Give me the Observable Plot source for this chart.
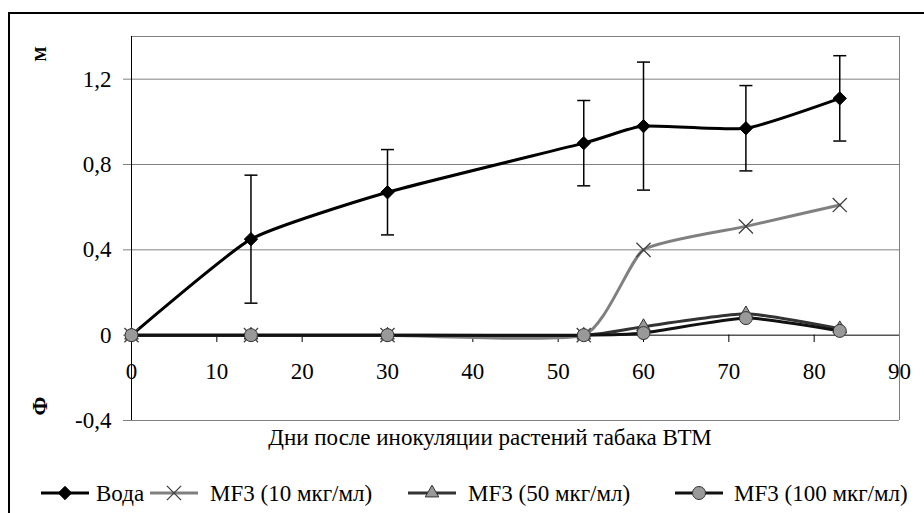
<!DOCTYPE html>
<html>
<head>
<meta charset="utf-8">
<script src="https://cdn.jsdelivr.net/npm/d3@7"></script>
<script src="https://cdn.jsdelivr.net/npm/@observablehq/plot@0.6"></script>
<style>
  html, body { margin: 0; padding: 0; background: #fff; }
  #wrap { position: relative; width: 924px; height: 513px; overflow: hidden; font-family: "Liberation Serif", "Times New Roman", serif; color: #000; }
  #wrap svg.plot { position: absolute; left: 0; top: 0; }
  .abs { position: absolute; white-space: nowrap; }
</style>
</head>
<body>
<div id="wrap"></div>
<script>
// ---- data ----
const days     = [0, 14, 30, 53, 60, 72, 83];
const water    = [0, 0.45, 0.67, 0.90, 0.98, 0.97, 1.11];
const waterErr = [0, 0.30, 0.20, 0.20, 0.30, 0.20, 0.20];
const mf3_10   = [0, 0, 0, 0, 0.40, 0.51, 0.61];
const mf3_50   = [0, 0, 0, 0, 0.04, 0.10, 0.03];
const mf3_100  = [0, 0, 0, 0, 0.01, 0.08, 0.02];
const xTicks   = [0, 10, 20, 30, 40, 50, 60, 70, 80, 90];
const yTicks   = [-0.4, 0, 0.4, 0.8, 1.2];
const gridVals = [-0.4, 0.4, 0.8, 1.2, 1.4];
const seriesNames = ["Вода", "MF3 (10 мкг/мл)", "MF3 (50 мкг/мл)", "MF3 (100 мкг/мл)"];
const xLabel = "Дни после инокуляции растений табака ВТМ";

const rows = days.map((d, i) => ({day: d, water: water[i], err: waterErr[i], s10: mf3_10[i], s50: mf3_50[i], s100: mf3_100[i]}));
const errRows = rows.filter(r => r.err > 0);
const fmt = d => String(d).replace(".", ",");
const FS = 23;

const cap = {draw(ctx, size) { const w = Math.sqrt(size / Math.PI); ctx.moveTo(-w, 0); ctx.lineTo(w, 0); }};

const styles = [
  {line: "#000000", symbol: "diamond2", fill: "#000", stroke: "#000", r: 6, sw: 1},
  {line: "#808080", symbol: "times", fill: "none", stroke: "#404040", r: 6.5, sw: 1.3},
  {line: "#333333", symbol: "triangle2", fill: "#999", stroke: "#333", r: 6.5, sw: 1},
  {line: "#111111", symbol: "circle", fill: "#999", stroke: "#333", r: 6.5, sw: 1}
];
const keys = ["water", "s10", "s50", "s100"];

const marks = [
  Plot.ruleY(gridVals, {stroke: "#808080", strokeWidth: 1}),
  Plot.ruleX([90], {stroke: "#808080", strokeWidth: 1}),
  Plot.ruleX([0], {stroke: "#000", strokeWidth: 1}),
  Plot.ruleY([0], {stroke: "#000", strokeWidth: 1}),
  Plot.ruleX(xTicks.filter(d => d > 0 && d < 90), {x: d => d, y1: 0, y2: -0.4, insetBottom: 78, stroke: "#000"}),
  Plot.ruleX([90], {y1: 0, y2: -0.4, insetBottom: 78, stroke: "#808080"}),
  Plot.text(xTicks, {x: d => d, y: 0, dy: 36, text: d => String(d), fontSize: FS, fill: "#000"}),
  Plot.axisY({ticks: yTicks, tickSize: 8, tickPadding: 12, tickFormat: fmt, fontSize: FS, stroke: "#808080", fill: "#000"})
];

keys.forEach((k, i) => {
  const s = styles[i];
  marks.push(Plot.line(rows, {x: "day", y: k, curve: "cardinal", tension: 0.5, stroke: s.line, strokeWidth: 3}));
  if (i === 0) {
    marks.push(Plot.ruleX(errRows, {x: "day", y1: r => r.water - r.err, y2: r => r.water + r.err, stroke: "#000", strokeWidth: 1.5}));
    marks.push(Plot.dot(errRows, {x: "day", y: r => r.water + r.err, symbol: cap, r: 6.5, stroke: "#000", strokeWidth: 1.5}));
    marks.push(Plot.dot(errRows, {x: "day", y: r => r.water - r.err, symbol: cap, r: 6.5, stroke: "#000", strokeWidth: 1.5}));
  }
  marks.push(Plot.dot(rows, {x: "day", y: k, symbol: s.symbol, r: s.r, fill: s.fill, stroke: s.stroke, strokeWidth: s.sw}));
});

const chart = Plot.plot({
  width: 924,
  height: 513,
  marginLeft: 131,
  marginRight: 25,
  marginTop: 36,
  marginBottom: 93,
  x: {domain: [0, 90], axis: null},
  y: {domain: [-0.4, 1.4], axis: null},
  style: {fontFamily: '"Liberation Serif", "Times New Roman", serif', fontSize: FS + "px", background: "transparent", color: "#000"},
  marks
});
chart.classList.add("plot");

const wrap = document.getElementById("wrap");
// outer chart border
const border = document.createElement("div");
border.className = "abs";
Object.assign(border.style, {left: "8px", top: "12px", width: "940px", height: "540px", border: "2px solid #000"});
wrap.appendChild(border);
wrap.appendChild(chart);

// x axis title
const xt = document.createElement("div");
xt.className = "abs";
xt.textContent = xLabel;
Object.assign(xt.style, {left: "490px", top: "437px", transform: "translate(-50%, -50%)", fontSize: FS + "px", lineHeight: "1"});
wrap.appendChild(xt);

// garbled rotated y title glyphs
[["М", 41, 54, 16], ["Ф", 40, 406, 22]].forEach(([t, x, y, fs]) => {
  const g = document.createElement("div");
  g.className = "abs";
  g.textContent = t;
  Object.assign(g.style, {left: x + "px", top: y + "px", transform: "translate(-50%, -50%) rotate(-90deg)", fontSize: fs + "px", fontWeight: "bold", lineHeight: "1"});
  wrap.appendChild(g);
});

// legend
const lineStarts = [41, 150, 408, 675];
const textStarts = [96, 210, 468, 734];
seriesNames.forEach((name, i) => {
  const s = styles[i];
  const svg = d3.create("svg").attr("width", 50).attr("height", 20)
    .style("position", "absolute").style("left", lineStarts[i] + "px").style("top", "483px").style("overflow", "visible");
  svg.append("line").attr("x1", 0).attr("x2", 48).attr("y1", 10).attr("y2", 10).attr("stroke", s.line).attr("stroke-width", 3);
  const sym = {diamond2: d3.symbolDiamond2, times: d3.symbolTimes, triangle2: d3.symbolTriangle2, circle: d3.symbolCircle}[s.symbol];
  svg.append("path").attr("transform", "translate(24,10)")
    .attr("d", d3.symbol(sym, s.r * s.r * Math.PI)())
    .attr("fill", s.fill).attr("stroke", s.stroke).attr("stroke-width", s.sw);
  wrap.appendChild(svg.node());
  const t = document.createElement("div");
  t.className = "abs";
  t.textContent = name;
  Object.assign(t.style, {left: textStarts[i] + "px", top: "493px", transform: "translateY(-50%)", fontSize: FS + "px", lineHeight: "1"});
  wrap.appendChild(t);
});
</script>
</body>
</html>
